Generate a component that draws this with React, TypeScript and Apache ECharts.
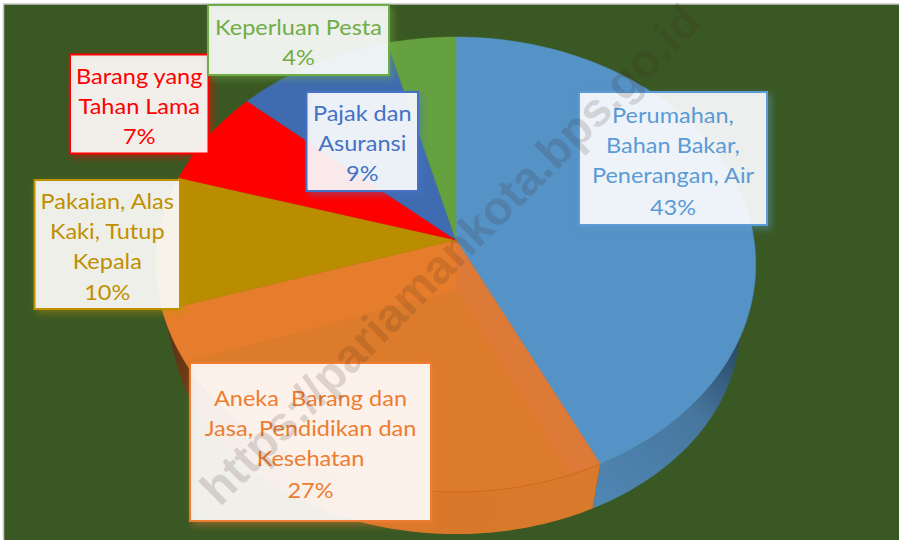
import React, { useEffect, useRef } from "react";
import * as echarts from "echarts";

const categories = [
  "Perumahan, Bahan Bakar, Penerangan, Air",
  "Aneka Barang dan Jasa, Pendidikan dan Kesehatan",
  "Pakaian, Alas Kaki, Tutup Kepala",
  "Barang yang Tahan Lama",
  "Pajak dan Asuransi",
  "Keperluan Pesta",
];
const values = [42.8, 27.3, 9.5, 6.9, 9.4, 4.1];
const labelLines = [
  ["Perumahan,", "Bahan Bakar,", "Penerangan, Air"],
  ["Aneka  Barang dan", "Jasa, Pendidikan dan", "Kesehatan"],
  ["Pakaian, Alas", "Kaki, Tutup", "Kepala"],
  ["Barang yang", "Tahan Lama"],
  ["Pajak dan", "Asuransi"],
  ["Keperluan Pesta"],
];
const faceColors = ["#5592C5", "#E0793A", "#BA8C00", "#FF0000", "#3F6CB0", "#66A13F"];
const labelColors = ["#5B9BD5", "#ED7D31", "#BF9000", "#FF0000", "#4472C4", "#70AD47"];
const shadowColors = [
  "rgba(91,155,213,0.5)",
  "rgba(237,125,49,0.5)",
  "rgba(191,144,0,0.5)",
  "rgba(255,0,0,0.5)",
  "rgba(68,114,196,0.5)",
  "rgba(112,173,71,0.5)",
];
const boxes = [
  [579, 92, 188, 133],
  [190, 363, 241, 158],
  [34.5, 180, 145.5, 129],
  [70, 54.5, 138.5, 99],
  [306.5, 92, 111.5, 99],
  [208, 5, 181, 70],
];
const firstLineY = [115, 398, 201, 75.5, 113, 27];
const percentShift = [2, 2, 1, 0, 0, 0];
const WATERMARK = "https://pariamankota.bps.go.id";

const total = values.reduce((a, b) => a + b, 0);
const startShare = values.map((_, i) => values.slice(0, i).reduce((a, b) => a + b, 0) / total);

// Perspective view of a circular disc: top rim and the smaller, lower bottom rim.
const rim = (theta: number, inset = 1): [number, number] => {
  const u = Math.sin(theta) * inset;
  const v = -Math.cos(theta) * inset;
  const d = 1 - 0.1077 * v;
  return [456 + (298 * u) / d, (199 * v + 240) / d];
};
const lowerRim = (theta: number): [number, number] => {
  const [x, y] = rim(theta);
  return [456 + (x - 456) * 0.947, 327 + (y - 265) * (208 / 228)];
};
const arcPoints = (f: (t: number) => [number, number], a: number, b: number) => {
  const pts: [number, number][] = [];
  const n = Math.max(2, Math.ceil(((b - a) * 180) / Math.PI));
  for (let i = 0; i <= n; i++) pts.push(f(a + ((b - a) * i) / n));
  return pts;
};
const shareAngles = (i: number): [number, number] => {
  const a = startShare[i] * Math.PI * 2;
  return [a, a + (values[i] / total) * Math.PI * 2];
};

const wallGradients = [
  [
    [592, 500, 757, 300],
    ["#4F86B2", "#47779F", "#173047"],
  ],
  [
    [165, 350, 600, 480],
    ["#5E3212", "#D9772A", "#D8792C"],
  ],
];

const renderWall = (params: any) => {
  const i = params.dataIndex;
  const [a, b] = shareAngles(i);
  const start = Math.max(a, (Math.PI * 90) / 180);
  const end = Math.min(b, (Math.PI * 262) / 180);
  if (i > 1 || end <= start) return { type: "group", children: [] };
  const top = arcPoints(rim, start, end);
  const bottom = arcPoints(lowerRim, start, end).reverse();
  const [[x1, y1, x2, y2], cols] = wallGradients[i] as [number[], string[]];
  const fill = new echarts.graphic.LinearGradient(
    x1, y1, x2, y2,
    cols.map((color, k) => ({ offset: k / (cols.length - 1), color })),
    true,
  );
  return {
    type: "polygon",
    shape: { points: [...top, ...bottom] },
    style: { fill, stroke: "none" },
  };
};

const renderFace = (params: any) => {
  const i = params.dataIndex;
  const [a, b] = shareAngles(i);
  const apex = rim(0, 0);
  const outer = arcPoints(rim, a, b);
  const children: any[] = [
    {
      type: "polygon",
      shape: { points: [apex, ...outer] },
      style: { fill: faceColors[i], stroke: faceColors[i], lineWidth: 0.5 },
    },
  ];
  if (i === 1) {
    // Main slice: the bevel band is the lighter base; the flat inner part sits over it.
    const inner = arcPoints(rim, a + 0.1, b - 0.23);
    children[0].style = { fill: "#E67D2C", stroke: "#E67D2C", lineWidth: 0.5 };
    children.push(
      {
        type: "polygon",
        shape: { points: [apex, [457, 290], ...inner.slice(0, 1)].concat(arcPoints(rim, a, a + 0.1).reverse()) },
        style: { fill: "#DE7A38", stroke: "none" },
      },
      {
        type: "polygon",
        shape: { points: [[457, 290], ...inner] },
        style: { fill: "#DC7B2B", stroke: "none" },
      },
      {
        type: "polyline",
        shape: { points: arcPoints(rim, a, a + 1.2) },
        style: { fill: "none", stroke: "#CF6A1E", lineWidth: 1 },
      },
    );
  }
  return { type: "group", children };
};

export default function App() {
  const ref = useRef<HTMLDivElement>(null);
  useEffect(() => {
    document.body.style.margin = "0";
    const chart = echarts.init(ref.current!, undefined, { renderer: "svg" });
    const labelGraphics: any[] = [];
    values.forEach((v, i) => {
      const [x, y, width, height] = boxes[i];
      labelGraphics.push({
        type: "rect",
        shape: { x, y, width, height },
        z: 10,
        style: {
          fill: "rgba(255,255,255,0.88)",
          stroke: labelColors[i],
          lineWidth: 2,
          shadowBlur: 7,
          shadowColor: shadowColors[i],
          shadowOffsetX: 3,
          shadowOffsetY: 3,
        },
      });
      const lines = [...labelLines[i], `${Math.round(v)}%`];
      lines.forEach((line, k) => {
        labelGraphics.push({
          type: "text",
          z: 11,
          x: x + width / 2,
          y: firstLineY[i] + k * 30 + (k === lines.length - 1 ? percentShift[i] : 0),
          scaleX: 1.12,
          style: {
            text: line,
            fill: labelColors[i],
            font: "21px Lato",
            align: "center",
            verticalAlign: "middle",
          },
        });
      });
    });
    chart.setOption({
      animation: false,
      backgroundColor: "#ffffff",
      tooltip: { show: false },
      graphic: [
        {
          type: "rect",
          z: -10,
          silent: true,
          shape: { x: 3.5, y: 4, width: 900, height: 540 },
          style: { fill: "#3A5823", stroke: "#C8C8C8", lineWidth: 1.5 },
        },
        ...labelGraphics,
        {
          type: "text",
          z: 20,
          x: 450,
          y: 254,
          rotation: Math.PI / 4,
          style: {
            text: WATERMARK,
            font: 'bold 47px "Liberation Sans"',
            fill: "rgba(60,40,30,0.17)",
            align: "center",
            verticalAlign: "middle",
          },
        },
      ],
      series: [
        {
          type: "custom",
          coordinateSystem: "none",
          renderItem: renderWall,
          data: values.map((value, i) => ({ name: categories[i], value })),
          z: 1,
          silent: true,
        },
        {
          type: "custom",
          coordinateSystem: "none",
          renderItem: renderFace,
          data: values.map((value, i) => ({ name: categories[i], value })),
          z: 2,
          silent: true,
        },
      ],
    });
    return () => chart.dispose();
  }, []);
  return <div ref={ref} style={{ width: 899, height: 540 }} />;
}
